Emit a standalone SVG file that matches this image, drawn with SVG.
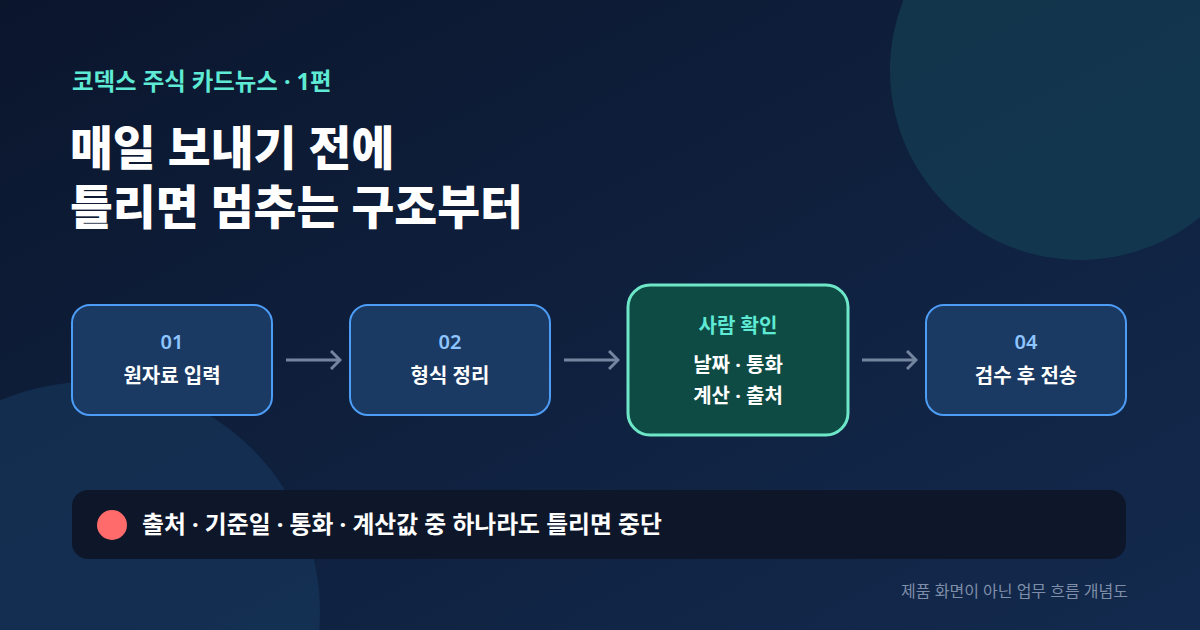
<svg xmlns="http://www.w3.org/2000/svg" width="1200" height="630" viewBox="0 0 1200 630">
  <defs>
    <linearGradient id="bg" x1="0" y1="0" x2="1" y2="1">
      <stop offset="0" stop-color="#0b162d"/>
      <stop offset="1" stop-color="#132a4e"/>
    </linearGradient>
    <marker id="chev" viewBox="0 0 12 20" refX="10" refY="10" markerWidth="12" markerHeight="20" markerUnits="userSpaceOnUse" orient="auto">
      <path d="M1 1 L10 10 L1 19" fill="none" stroke="#74859f" stroke-width="3" stroke-linecap="butt"/>
    </marker>
    <style>
      text { font-family: "Noto Sans", "Noto Sans CJK KR", sans-serif; }
      .box { fill: #1a3a63; stroke: #4d9cf5; stroke-width: 2; }
      .hbox { fill: #0f4b45; stroke: #6ee7c8; stroke-width: 3; }
      .num { fill: #8ec5ff; font-size: 20px; font-weight: 600; text-anchor: middle; }
      .lbl { fill: #ffffff; font-size: 20px; font-weight: 700; text-anchor: middle; }
      .conn { stroke: #74859f; stroke-width: 3; fill: none; marker-end: url(#chev); }
    </style>
  </defs>
  <rect width="1200" height="630" fill="url(#bg)"/>
  <circle cx="1080" cy="70" r="190" fill="#133a50" opacity="0.85"/>
  <circle cx="90" cy="612" r="230" fill="#163559" opacity="0.7"/>

  <text x="72" y="90" fill="#5eead4" font-size="23.4" font-weight="700">코덱스 주식 카드뉴스 · 1편</text>
  <text x="70" y="165" fill="#ffffff" font-size="46.6" font-weight="800">매일 보내기 전에</text>
  <text x="70" y="224" fill="#ffffff" font-size="46.6" font-weight="800">틀리면 멈추는 구조부터</text>

  <g id="connectors">
    <line class="conn" x1="286" y1="360" x2="340" y2="360"/>
    <line class="conn" x1="564" y1="360" x2="618" y2="360"/>
    <line class="conn" x1="862" y1="360" x2="916" y2="360"/>
  </g>

  <g id="node1">
    <rect class="box" x="72" y="305" width="200" height="110" rx="18"/>
    <text class="num" x="172" y="349">01</text>
    <text class="lbl" x="172" y="383">원자료 입력</text>
  </g>
  <g id="node2">
    <rect class="box" x="350" y="305" width="200" height="110" rx="18"/>
    <text class="num" x="450" y="349">02</text>
    <text class="lbl" x="450" y="383">형식 정리</text>
  </g>
  <g id="node3">
    <rect class="hbox" x="628" y="285" width="220" height="150" rx="22"/>
    <text x="738" y="333" fill="#5eead4" font-size="20" font-weight="700" text-anchor="middle">사람 확인</text>
    <text class="lbl" x="738" y="372">날짜 · 통화</text>
    <text class="lbl" x="738" y="403">계산 · 출처</text>
  </g>
  <g id="node4">
    <rect class="box" x="926" y="305" width="200" height="110" rx="18"/>
    <text class="num" x="1026" y="349">04</text>
    <text class="lbl" x="1026" y="383">검수 후 전송</text>
  </g>

  <g id="alert">
    <rect x="72" y="490" width="1054" height="69" rx="16" fill="#0d1729"/>
    <circle cx="112" cy="525" r="15" fill="#ff6b6b"/>
    <text x="142" y="533" fill="#ffffff" font-size="23.8" font-weight="700">출처 · 기준일 · 통화 · 계산값 중 하나라도 틀리면 중단</text>
  </g>

  <text x="1128" y="597" fill="#7f8ea8" font-size="16" text-anchor="end">제품 화면이 아닌 업무 흐름 개념도</text>
</svg>
